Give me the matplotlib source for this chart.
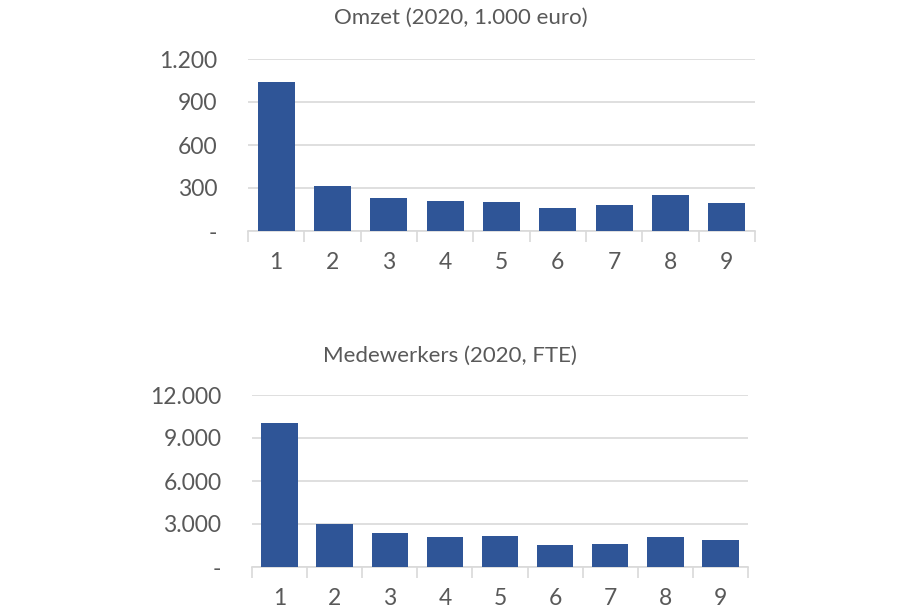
import matplotlib.pyplot as plt
from matplotlib.ticker import FuncFormatter, FixedLocator

plt.rcParams['font.family'] = ['Lato', 'DejaVu Sans']

# Data
categorieen = ['1', '2', '3', '4', '5', '6', '7', '8', '9']
omzet = [1038, 312, 230, 211, 199, 162, 183, 248, 195]
medewerkers = [10050, 2990, 2350, 2110, 2140, 1530, 1600, 2070, 1880]

BALK_KLEUR = '#2F5597'
TEKST_KLEUR = '#595959'
GRID_KLEUR = '#D9D9D9'


def nl_formaat(v, pos):
    if abs(v) < 1e-9:
        return '-'
    return f"{int(round(v)):,}".replace(',', '.')


def teken_paneel(ax, waarden, ymax, stap):
    x = range(len(categorieen))
    ax.bar(x, waarden, width=0.66, color=BALK_KLEUR, zorder=3)
    ax.set_xlim(-0.5, len(categorieen) - 0.5)
    ax.set_ylim(0, ymax)
    ax.set_yticks([i * stap for i in range(int(ymax / stap) + 1)])
    ax.yaxis.set_major_formatter(FuncFormatter(nl_formaat))
    ax.grid(axis='y', color=GRID_KLEUR, linewidth=1.2, zorder=0)

    ax.set_xticks(list(x))
    ax.set_xticklabels(categorieen)
    ax.xaxis.set_minor_locator(FixedLocator([i - 0.5 for i in range(len(categorieen) + 1)]))
    ax.tick_params(axis='x', which='major', length=0, pad=15, labelsize=16.5, labelcolor=TEKST_KLEUR)
    ax.tick_params(axis='x', which='minor', length=8, color=GRID_KLEUR, width=1.2)
    ax.tick_params(axis='y', length=0, pad=22, labelsize=16.5, labelcolor=TEKST_KLEUR)

    for s in ['top', 'right', 'left']:
        ax.spines[s].set_visible(False)
    ax.spines['bottom'].set_color(GRID_KLEUR)
    ax.spines['bottom'].set_linewidth(1.2)


fig = plt.figure(figsize=(9, 6.13), dpi=100)
ax1 = fig.add_axes([248 / 900, 1 - 231 / 613, 507 / 900, 172 / 613])
ax2 = fig.add_axes([252 / 900, 1 - 567 / 613, 496 / 900, 172 / 613])

teken_paneel(ax1, omzet, 1200, 300)
teken_paneel(ax2, medewerkers, 12000, 3000)

fig.text(461 / 900, 1 - 18 / 613, 'Omzet (2020, 1.000 euro)', fontsize=16,
         color=TEKST_KLEUR, ha='center', va='center')
fig.text(450 / 900, 1 - 356 / 613, 'Medewerkers (2020, FTE)', fontsize=16,
         color=TEKST_KLEUR, ha='center', va='center')

fig.savefig('out.png', dpi=100)
